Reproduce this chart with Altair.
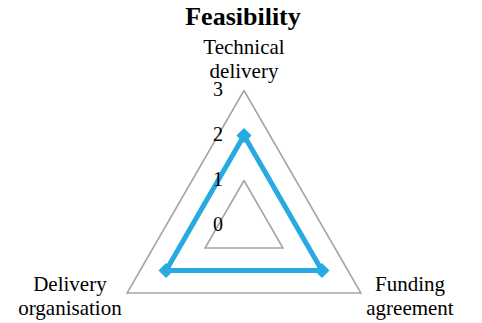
import altair as alt
import pandas as pd

# ---- data ----
categories = ["Technical delivery", "Funding agreement", "Delivery organisation"]
values = [2, 2, 2]
grid_levels = [1, 2, 3]
tick_values = [0, 1, 2, 3]
tick_labels = ["0", "1", "2", "3"]
title_text = "Feasibility"

BLUE = "#27A9E1"
GREY = "#A6A6A6"
FONT = "Liberation Serif"

n = len(categories)

# series polygon (closed)
series_rows = []
for j in range(n + 1):
    i = j % n
    series_rows.append({"category": categories[i], "idx": i, "order": j, "value": values[i]})
series_df = pd.DataFrame(series_rows)

# grid polygons (closed)
grid_rows = []
for lv in grid_levels:
    for j in range(n + 1):
        grid_rows.append({"level": lv, "idx": j % n, "order": j})
grid_df = pd.DataFrame(grid_rows)

label_df = pd.DataFrame({
    "category": categories,
    "idx": list(range(n)),
    "label": [c.replace(" ", "\n", 1) for c in categories],
})

tick_df = pd.DataFrame({"r": tick_values, "text": tick_labels})

angle_expr = "(90 - 120 * datum.idx) * PI / 180"

xs = alt.Scale(domain=[-5.2444, 5.1111], nice=False, zero=False)
ys = alt.Scale(domain=[-2.1667, 4.8333], nice=False, zero=False)

grid = alt.Chart(grid_df).transform_calculate(
    a=angle_expr
).transform_calculate(
    x="datum.level * cos(datum.a)", y="datum.level * sin(datum.a)"
).mark_line(color=GREY, strokeWidth=1.6).encode(
    x=alt.X("x:Q", scale=xs, axis=None),
    y=alt.Y("y:Q", scale=ys, axis=None),
    detail="level:N",
    order="order:Q",
)

series_base = alt.Chart(series_df).transform_calculate(
    a=angle_expr
).transform_calculate(
    x="datum.value * cos(datum.a)", y="datum.value * sin(datum.a)"
)

series_line = series_base.mark_line(color=BLUE, strokeWidth=5, strokeJoin="miter").encode(
    x=alt.X("x:Q", scale=xs, axis=None),
    y=alt.Y("y:Q", scale=ys, axis=None),
    order="order:Q",
)

series_pts = series_base.transform_filter("datum.order < 3").mark_point(
    shape="diamond", filled=True, color=BLUE, size=230, opacity=1
).encode(
    x=alt.X("x:Q", scale=xs, axis=None),
    y=alt.Y("y:Q", scale=ys, axis=None),
)

labels = alt.Chart(label_df).transform_calculate(
    a=angle_expr
).transform_calculate(
    lx="3 * cos(datum.a) + (cos(datum.a) > 0.5 ? 1.09 : (cos(datum.a) < -0.5 ? -1.27 : 0))",
    ly="3 * sin(datum.a) + (sin(datum.a) > 0.5 ? 0.94 : 0.18)",
).mark_text(
    font=FONT, fontSize=21, lineBreak="\n", lineHeight=24, align="center",
    baseline="middle", color="#000000"
).encode(
    x=alt.X("lx:Q", scale=xs, axis=None),
    y=alt.Y("ly:Q", scale=ys, axis=None),
    text="label:N",
)

ticks = alt.Chart(tick_df).transform_calculate(
    tx="-0.58"
).mark_text(
    font=FONT, fontSize=20, align="center", baseline="middle", color="#000000"
).encode(
    x=alt.X("tx:Q", scale=xs, axis=None),
    y=alt.Y("r:Q", scale=ys, axis=None),
    text="text:N",
)

title = alt.Chart(pd.DataFrame({"t": [title_text]})).mark_text(
    font=FONT, fontSize=26, fontWeight="bold", align="center",
    baseline="alphabetic", color="#000000"
).encode(
    x=alt.value(235),
    y=alt.value(17),
    text="t:N",
)

chart = alt.layer(grid, series_line, series_pts, labels, ticks, title).properties(
    width=466, height=315, padding=0,
    autosize=alt.AutoSizeParams(type="none"),
).configure_view(stroke=None)

chart.save("out.html", embed_options={"renderer": "svg", "actions": False})
